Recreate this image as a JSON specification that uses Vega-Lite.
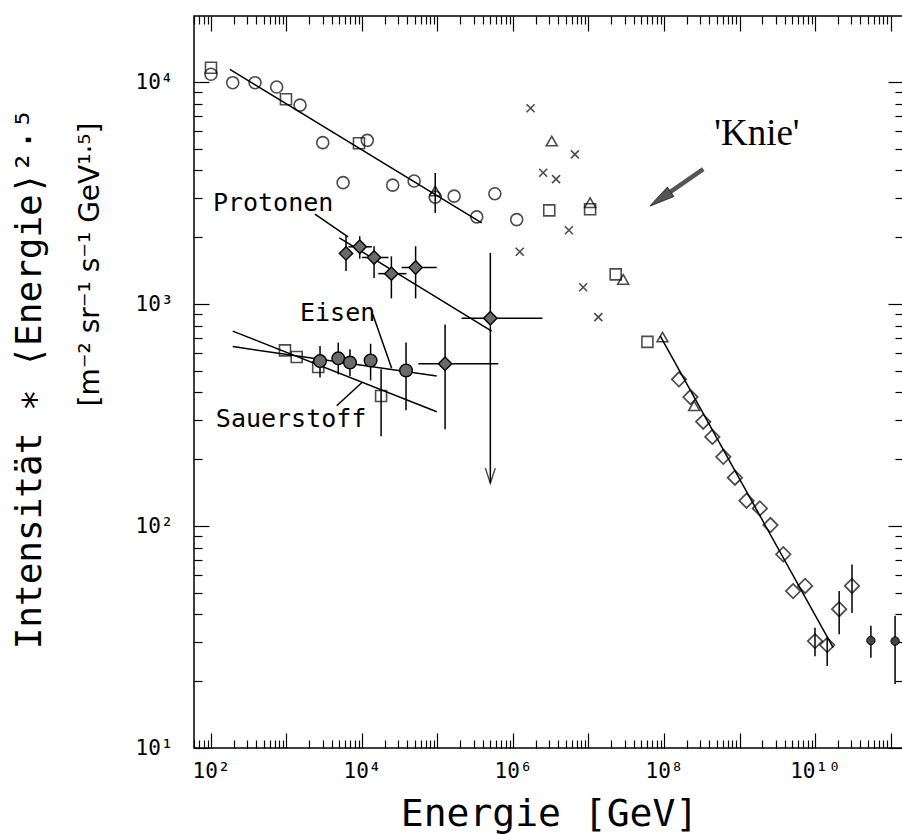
{
  "$schema": "https://vega.github.io/schema/vega-lite/v6.json",
  "width": 709,
  "height": 732,
  "autosize": {"type": "none"},
  "padding": {"left": 194, "top": 16, "right": 0, "bottom": 86},
  "background": "white",
  "config": {
    "view": {"stroke": "black", "strokeWidth": 1.5},
    "axis": {"domain": false, "grid": false, "tickColor": "black", "tickWidth": 1.2, "labelColor": "black", "labelFont": "DejaVu Sans Mono", "labelFontSize": 21, "titleColor": "black", "titleFont": "DejaVu Sans Mono", "titleFontWeight": "normal", "labelOverlap": false, "labelFlush": false, "labelBound": false}
  },
  "datasets": {
    "pts": [
      {"g":"circle","E":100,"I":10840},{"g":"circle","E":194,"I":9930},{"g":"circle","E":383,"I":9930},{"g":"circle","E":741,"I":9490},{"g":"circle","E":1510,"I":7870},{"g":"circle","E":3020,"I":5330},{"g":"circle","E":5620,"I":3520},{"g":"circle","E":11750,"I":5460},{"g":"circle","E":25500,"I":3430},{"g":"circle","E":49000,"I":3580},{"g":"circle","E":93300,"I":3030},{"g":"circle","E":166000,"I":3060},{"g":"circle","E":331000,"I":2470},{"g":"circle","E":575000,"I":3140},{"g":"circle","E":1120000,"I":2400},
      {"g":"square","E":100,"I":11590},{"g":"square","E":984,"I":8360},{"g":"square","E":9120,"I":5300},{"g":"square","E":3020000,"I":2640},{"g":"square","E":10500000,"I":2670},{"g":"square","E":22900000,"I":1360},{"g":"square","E":60300000,"I":675},{"g":"square","E":955,"I":618},{"g":"square","E":1365,"I":577},{"g":"square","E":2630,"I":520},{"g":"square","E":17900,"I":385},
      {"g":"triangle","E":93300,"I":3230},{"g":"triangle","E":3260000,"I":5420},{"g":"triangle","E":10500000,"I":2860},{"g":"triangle","E":28800000,"I":1290},{"g":"triangle","E":95500000,"I":710},{"g":"triangle","E":251000000,"I":348},
      {"g":"cross","E":1710000,"I":7620},{"g":"cross","E":1230000,"I":1720},{"g":"cross","E":6600000,"I":4720},{"g":"cross","E":2510000,"I":3900},{"g":"cross","E":3720000,"I":3650},{"g":"cross","E":5500000,"I":2150},{"g":"cross","E":8500000,"I":1190},{"g":"cross","E":13500000,"I":873},
      {"g":"diamond","E":1.58e8,"I":458},{"g":"diamond","E":2.24e8,"I":381},{"g":"diamond","E":3.31e8,"I":295},{"g":"diamond","E":4.37e8,"I":252},{"g":"diamond","E":6.1e8,"I":205},{"g":"diamond","E":8.7e8,"I":165},{"g":"diamond","E":1.24e9,"I":130},{"g":"diamond","E":1.86e9,"I":120},{"g":"diamond","E":2.57e9,"I":101},{"g":"diamond","E":3.8e9,"I":74.6},{"g":"diamond","E":5.13e9,"I":50.9},{"g":"diamond","E":7.4e9,"I":53.7},{"g":"diamond","E":1e10,"I":30.3},{"g":"diamond","E":1.45e10,"I":29.1},{"g":"diamond","E":2.09e10,"I":42.2},{"g":"diamond","E":3.09e10,"I":53.7},
      {"g":"pdiamond","E":6140,"I":1690},{"g":"pdiamond","E":9330,"I":1810},{"g":"pdiamond","E":14450,"I":1620},{"g":"pdiamond","E":24500,"I":1370},{"g":"pdiamond","E":51300,"I":1460},{"g":"pdiamond","E":501000,"I":863},{"g":"pdiamond","E":126000,"I":538},
      {"g":"fecircle","E":2780,"I":553},{"g":"fecircle","E":4850,"I":569},{"g":"fecircle","E":6930,"I":545},{"g":"fecircle","E":13000,"I":557},{"g":"fecircle","E":38300,"I":502},
      {"g":"dot","E":5.5e10,"I":30.5},{"g":"dot","E":1.15e11,"I":30.3}
    ],
    "vbars": [
      {"E":93300,"lo":2570,"hi":3890},{"E":17900,"lo":254,"hi":508},
      {"E":6140,"lo":1410,"hi":2040},{"E":9330,"lo":1600,"hi":2020},{"E":14450,"lo":1310,"hi":1820},{"E":24500,"lo":1060,"hi":1640},{"E":51300,"lo":1060,"hi":1820},
      {"E":501000,"lo":156,"hi":1700},
      {"E":2780,"lo":466,"hi":647},{"E":4850,"lo":482,"hi":670},{"E":6930,"lo":474,"hi":625},{"E":13000,"lo":453,"hi":662},{"E":38300,"lo":332,"hi":670},
      {"E":126000,"lo":273,"hi":809},
      {"E":1e10,"lo":25.9,"hi":34.8},{"E":1.45e10,"lo":23.4,"hi":31.4},{"E":2.09e10,"lo":32.5,"hi":50.9},{"E":3.09e10,"lo":40.6,"hi":67.1},
      {"E":5.5e10,"lo":25.5,"hi":35.5},{"E":1.15e11,"lo":19.4,"hi":39.4}
    ],
    "hbars": [
      {"I":1810,"lo":6610,"hi":13500},{"I":1620,"lo":10000,"hi":22400},{"I":1370,"lo":16400,"hi":38900},{"I":1460,"lo":33500,"hi":97700},{"I":863,"lo":209000,"hi":2450000},{"I":538,"lo":55700,"hi":638000}
    ],
    "lines": [
      {"s":"all","E":178,"I":11400},{"s":"all","E":385000,"I":2320},
      {"s":"p","E":5010,"I":1986},{"s":"p","E":522000,"I":755},
      {"s":"fe","E":194,"I":643},{"s":"fe","E":97700,"I":474},
      {"s":"o","E":194,"I":755},{"s":"o","E":97700,"I":327},
      {"s":"he","E":8.9e7,"I":718},{"s":"he","E":1.74e10,"I":28.3},
      {"s":"ptrP","E":2380,"I":2540},{"s":"ptrP","E":6530,"I":2005},
      {"s":"ptrFe","E":13900,"I":899},{"s":"ptrFe","E":24700,"I":514},
      {"s":"ptrO","E":4620,"I":348},{"s":"ptrO","E":9910,"I":442}
    ],
    "labels": [
      {"t":"Protonen","E":106,"I":2850},{"t":"Eisen","E":1510,"I":910},{"t":"Sauerstoff","E":116,"I":303}
    ],
    "knie": [{"t":"'Knie'","E":1.7e9,"I":5840}],
    "arrow": [{"E":3.31e8,"I":4050,"E2":8.93e7,"I2":2974}],
    "arrowhead": [{"E":8.93e7,"I":2974}],
    "limit": [{"E":501000,"I":156}]
  },
  "resolve": {"axis": {"x": "independent", "y": "independent"}},
  "layer": [
    {
      "data": {"name": "vbars"},
      "mark": {"type": "rule", "color": "black", "strokeWidth": 1.5},
      "encoding": {
        "x": {"field": "E", "type": "quantitative", "scale": {"type": "log", "domain": [59.55, 1.464e11], "nice": false},
          "axis": {"orient": "bottom", "values": [1e2,1e3,1e4,1e5,1e6,1e7,1e8,1e9,1e10,1e11], "tickSize": -15, "labelPadding": 27, "labelBaseline": "top",
            "labelExpr": "datum.value == 100 ? '10²' : datum.value == 10000 ? '10⁴' : datum.value == 1000000 ? '10⁶' : datum.value == 100000000 ? '10⁸' : datum.value == 10000000000 ? '10¹⁰' : ''",
            "title": "Energie [GeV]", "titleFontSize": 38, "titleX": 355, "titleY": 66, "titleBaseline": "middle", "titleAlign": "center"}},
        "y": {"field": "lo", "type": "quantitative", "scale": {"type": "log", "domain": [10, 19830], "nice": false},
          "axis": {"orient": "left", "values": [10,100,1000,10000], "tickSize": -15, "labelPadding": 36, "labelBaseline": "middle",
            "labelExpr": "datum.value == 10 ? '10¹' : datum.value == 100 ? '10²' : datum.value == 1000 ? '10³' : '10⁴'",
            "title": "[m⁻² sr⁻¹ s⁻¹ GeV¹·⁵]", "titleFont": "DejaVu Sans", "titleFontSize": 28, "titleX": -104, "titleY": 106, "titleAngle": -90, "titleAlign": "right", "titleBaseline": "middle"}},
        "y2": {"field": "hi"}
      }
    },
    {
      "data": {"name": "hbars"},
      "mark": {"type": "rule", "color": "black", "strokeWidth": 1.5},
      "encoding": {
        "x": {"field": "lo", "type": "quantitative", "scale": {"type": "log", "domain": [59.55, 1.464e11], "nice": false},
          "axis": {"orient": "bottom", "values": [60,70,80,90,2e2,3e2,4e2,5e2,6e2,7e2,8e2,9e2,2e3,3e3,4e3,5e3,6e3,7e3,8e3,9e3,2e4,3e4,4e4,5e4,6e4,7e4,8e4,9e4,2e5,3e5,4e5,5e5,6e5,7e5,8e5,9e5,2e6,3e6,4e6,5e6,6e6,7e6,8e6,9e6,2e7,3e7,4e7,5e7,6e7,7e7,8e7,9e7,2e8,3e8,4e8,5e8,6e8,7e8,8e8,9e8,2e9,3e9,4e9,5e9,6e9,7e9,8e9,9e9,2e10,3e10,4e10,5e10,6e10,7e10,8e10,9e10], "tickSize": -8, "labels": false, "title": null}},
        "x2": {"field": "hi"},
        "y": {"field": "I", "type": "quantitative", "scale": {"type": "log", "domain": [10, 19830], "nice": false},
          "axis": {"orient": "left", "values": [20,30,40,50,60,70,80,90,200,300,400,500,600,700,800,900,2000,3000,4000,5000,6000,7000,8000,9000], "tickSize": -8, "labels": false,
            "title": "Intensität ∗ ⟨Energie⟩²·⁵", "titleFontSize": 36, "titleX": -165, "titleY": 91, "titleAngle": -90, "titleAlign": "right", "titleBaseline": "middle"}}
      }
    },
    {
      "data": {"name": "lines"},
      "mark": {"type": "line", "color": "black", "strokeWidth": 1.5},
      "encoding": {
        "x": {"field": "E", "type": "quantitative", "scale": {"type": "log", "domain": [59.55, 1.464e11], "nice": false},
          "axis": {"orient": "top", "values": [1e2,1e3,1e4,1e5,1e6,1e7,1e8,1e9,1e10,1e11], "tickSize": -15, "labels": false, "title": null}},
        "y": {"field": "I", "type": "quantitative", "scale": {"type": "log", "domain": [10, 19830], "nice": false},
          "axis": {"orient": "right", "values": [10,100,1000,10000], "tickSize": -15, "labels": false, "title": null}},
        "detail": {"field": "s"}
      }
    },
    {
      "data": {"name": "pts"},
      "transform": [{"filter": "datum.g == 'circle'"}],
      "mark": {"type": "point", "shape": "circle", "filled": false, "stroke": "black", "strokeWidth": 1.6, "size": 144},
      "encoding": {
        "x": {"field": "E", "type": "quantitative", "scale": {"type": "log", "domain": [59.55, 1.464e11], "nice": false},
          "axis": {"orient": "top", "values": [60,70,80,90,2e2,3e2,4e2,5e2,6e2,7e2,8e2,9e2,2e3,3e3,4e3,5e3,6e3,7e3,8e3,9e3,2e4,3e4,4e4,5e4,6e4,7e4,8e4,9e4,2e5,3e5,4e5,5e5,6e5,7e5,8e5,9e5,2e6,3e6,4e6,5e6,6e6,7e6,8e6,9e6,2e7,3e7,4e7,5e7,6e7,7e7,8e7,9e7,2e8,3e8,4e8,5e8,6e8,7e8,8e8,9e8,2e9,3e9,4e9,5e9,6e9,7e9,8e9,9e9,2e10,3e10,4e10,5e10,6e10,7e10,8e10,9e10], "tickSize": -8, "labels": false, "title": null}},
        "y": {"field": "I", "type": "quantitative", "scale": {"type": "log", "domain": [10, 19830], "nice": false},
          "axis": {"orient": "right", "values": [20,30,40,50,60,70,80,90,200,300,400,500,600,700,800,900,2000,3000,4000,5000,6000,7000,8000,9000], "tickSize": -8, "labels": false, "title": null}}
      }
    },
    {
      "data": {"name": "pts"},
      "transform": [{"filter": "datum.g == 'square'"}],
      "mark": {"type": "point", "shape": "square", "filled": false, "stroke": "black", "strokeWidth": 1.6, "size": 121},
      "encoding": {
        "x": {"field": "E", "type": "quantitative", "scale": {"type": "log", "domain": [59.55, 1.464e11], "nice": false}, "axis": null},
        "y": {"field": "I", "type": "quantitative", "scale": {"type": "log", "domain": [10, 19830], "nice": false}, "axis": null}
      }
    },
    {
      "data": {"name": "pts"},
      "transform": [{"filter": "datum.g == 'triangle'"}],
      "mark": {"type": "point", "shape": "triangle-up", "filled": false, "stroke": "black", "strokeWidth": 1.6, "size": 120},
      "encoding": {
        "x": {"field": "E", "type": "quantitative", "scale": {"type": "log", "domain": [59.55, 1.464e11], "nice": false}, "axis": null},
        "y": {"field": "I", "type": "quantitative", "scale": {"type": "log", "domain": [10, 19830], "nice": false}, "axis": null}
      }
    },
    {
      "data": {"name": "pts"},
      "transform": [{"filter": "datum.g == 'cross'"}],
      "mark": {"type": "point", "shape": "M-1,-1L1,1M-1,1L1,-1", "filled": false, "stroke": "black", "strokeWidth": 1.6, "size": 64},
      "encoding": {
        "x": {"field": "E", "type": "quantitative", "scale": {"type": "log", "domain": [59.55, 1.464e11], "nice": false}, "axis": null},
        "y": {"field": "I", "type": "quantitative", "scale": {"type": "log", "domain": [10, 19830], "nice": false}, "axis": null}
      }
    },
    {
      "data": {"name": "pts"},
      "transform": [{"filter": "datum.g == 'diamond'"}],
      "mark": {"type": "point", "shape": "diamond", "filled": false, "stroke": "black", "strokeWidth": 1.7, "size": 210},
      "encoding": {
        "x": {"field": "E", "type": "quantitative", "scale": {"type": "log", "domain": [59.55, 1.464e11], "nice": false}, "axis": null},
        "y": {"field": "I", "type": "quantitative", "scale": {"type": "log", "domain": [10, 19830], "nice": false}, "axis": null}
      }
    },
    {
      "data": {"name": "pts"},
      "transform": [{"filter": "datum.g == 'pdiamond'"}],
      "mark": {"type": "point", "shape": "diamond", "filled": true, "fill": "#6a6a6a", "stroke": "black", "strokeWidth": 1.4, "size": 180, "opacity": 1},
      "encoding": {
        "x": {"field": "E", "type": "quantitative", "scale": {"type": "log", "domain": [59.55, 1.464e11], "nice": false}, "axis": null},
        "y": {"field": "I", "type": "quantitative", "scale": {"type": "log", "domain": [10, 19830], "nice": false}, "axis": null}
      }
    },
    {
      "data": {"name": "pts"},
      "transform": [{"filter": "datum.g == 'fecircle'"}],
      "mark": {"type": "point", "shape": "circle", "filled": true, "fill": "#6a6a6a", "stroke": "black", "strokeWidth": 1.4, "size": 160, "opacity": 1},
      "encoding": {
        "x": {"field": "E", "type": "quantitative", "scale": {"type": "log", "domain": [59.55, 1.464e11], "nice": false}, "axis": null},
        "y": {"field": "I", "type": "quantitative", "scale": {"type": "log", "domain": [10, 19830], "nice": false}, "axis": null}
      }
    },
    {
      "data": {"name": "pts"},
      "transform": [{"filter": "datum.g == 'dot'"}],
      "mark": {"type": "point", "shape": "circle", "filled": true, "fill": "#444444", "stroke": "black", "strokeWidth": 1, "size": 70, "opacity": 1},
      "encoding": {
        "x": {"field": "E", "type": "quantitative", "scale": {"type": "log", "domain": [59.55, 1.464e11], "nice": false}, "axis": null},
        "y": {"field": "I", "type": "quantitative", "scale": {"type": "log", "domain": [10, 19830], "nice": false}, "axis": null}
      }
    },
    {
      "data": {"name": "labels"},
      "mark": {"type": "text", "font": "DejaVu Sans Mono", "fontSize": 25, "align": "left", "baseline": "middle", "color": "black"},
      "encoding": {
        "x": {"field": "E", "type": "quantitative", "scale": {"type": "log", "domain": [59.55, 1.464e11], "nice": false}, "axis": null},
        "y": {"field": "I", "type": "quantitative", "scale": {"type": "log", "domain": [10, 19830], "nice": false}, "axis": null},
        "text": {"field": "t"}
      }
    },
    {
      "data": {"name": "knie"},
      "mark": {"type": "text", "font": "Liberation Serif", "fontSize": 37, "align": "center", "baseline": "middle", "color": "black"},
      "encoding": {
        "x": {"field": "E", "type": "quantitative", "scale": {"type": "log", "domain": [59.55, 1.464e11], "nice": false}, "axis": null},
        "y": {"field": "I", "type": "quantitative", "scale": {"type": "log", "domain": [10, 19830], "nice": false}, "axis": null},
        "text": {"field": "t"}
      }
    },
    {
      "data": {"name": "arrow"},
      "mark": {"type": "rule", "color": "#555555", "strokeWidth": 4.5},
      "encoding": {
        "x": {"field": "E", "type": "quantitative", "scale": {"type": "log", "domain": [59.55, 1.464e11], "nice": false}, "axis": null},
        "y": {"field": "I", "type": "quantitative", "scale": {"type": "log", "domain": [10, 19830], "nice": false}, "axis": null},
        "x2": {"field": "E2"},
        "y2": {"field": "I2"}
      }
    },
    {
      "data": {"name": "arrowhead"},
      "mark": {"type": "point", "shape": "M0,-1L-0.45,1L0.45,1Z", "filled": true, "fill": "#555555", "stroke": "#333333", "strokeWidth": 1, "size": 625, "angle": 235.5, "opacity": 1},
      "encoding": {
        "x": {"field": "E", "type": "quantitative", "scale": {"type": "log", "domain": [59.55, 1.464e11], "nice": false}, "axis": null},
        "y": {"field": "I", "type": "quantitative", "scale": {"type": "log", "domain": [10, 19830], "nice": false}, "axis": null}
      }
    },
    {
      "data": {"name": "limit"},
      "mark": {"type": "point", "shape": "M-0.5,-1.5L0,0L0.5,-1.5", "filled": false, "stroke": "black", "strokeWidth": 1.5, "size": 400},
      "encoding": {
        "x": {"field": "E", "type": "quantitative", "scale": {"type": "log", "domain": [59.55, 1.464e11], "nice": false}, "axis": null},
        "y": {"field": "I", "type": "quantitative", "scale": {"type": "log", "domain": [10, 19830], "nice": false}, "axis": null}
      }
    }
  ]
}
